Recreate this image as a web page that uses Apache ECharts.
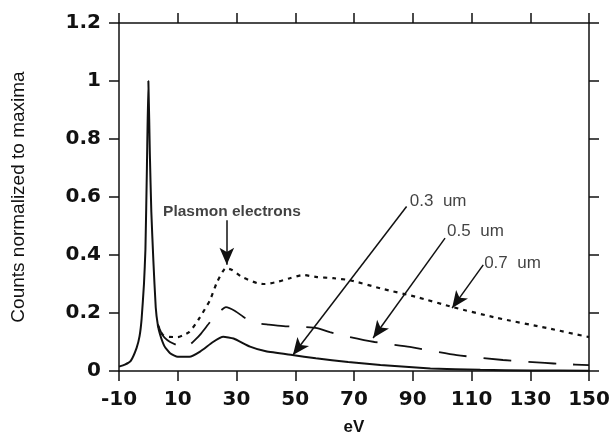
<!DOCTYPE html>
<html>
<head>
<meta charset="utf-8">
<script src="https://cdn.jsdelivr.net/npm/echarts@6/dist/echarts.min.js"></script>
<style>
  html, body { margin: 0; padding: 0; background: #fff; }
  #chart { width: 612px; height: 437px; }
</style>
</head>
<body>
<div id="chart"></div>
<script>
// x axis ticks (eV)
const xTicks = [-10, 10, 30, 50, 70, 90, 110, 130, 150];

// 0.3 um - solid
const solidX = [-10, -8, -6, -4, -3, -2.3, -1.5, -1, -0.5, 0, 0.5, 1, 1.7, 2.5, 3.2, 4, 5.5, 7.4, 10, 14, 17.6, 22, 25.5, 29, 34.6, 40, 49, 57, 68, 79, 96, 113, 130, 150];
const solidY = [0.015, 0.022, 0.035, 0.08, 0.12, 0.18, 0.3, 0.42, 0.7, 1.0, 0.75, 0.55, 0.38, 0.22, 0.16, 0.125, 0.085, 0.061, 0.049, 0.049, 0.067, 0.1, 0.118, 0.112, 0.084, 0.068, 0.055, 0.044, 0.031, 0.021, 0.009, 0.004, 0.002, 0.001];

// 0.5 um - long dashes
const dashX = [3.2, 4.5, 5.5, 7.4, 10, 11.8, 14, 15.9, 18, 21, 23.7, 26.4, 29.5, 32.9, 37, 41, 46, 52, 57.4, 61.8, 68.6, 77, 89, 105, 120.7, 135, 141, 150];
const dashY = [0.16, 0.13, 0.115, 0.1, 0.088, 0.083, 0.09, 0.107, 0.13, 0.169, 0.2, 0.22, 0.207, 0.183, 0.165, 0.16, 0.155, 0.152, 0.148, 0.134, 0.117, 0.1, 0.083, 0.055, 0.038, 0.028, 0.024, 0.02];

// 0.7 um - dotted
const dotX = [3.2, 4, 5, 7, 10, 12, 14, 17, 21, 23.4, 26.4, 28.5, 31.9, 37, 39.7, 43.8, 48.2, 52.6, 57.4, 62.9, 68.6, 79, 91, 103.7, 118.7, 135.7, 150];
const dotY = [0.16, 0.14, 0.124, 0.118, 0.117, 0.124, 0.135, 0.176, 0.245, 0.307, 0.355, 0.348, 0.324, 0.303, 0.3, 0.307, 0.32, 0.331, 0.324, 0.32, 0.313, 0.285, 0.256, 0.22, 0.183, 0.148, 0.117];

// annotations: text anchor (left edge), arrow start, arrow tip
const noteText = ["Plasmon electrons", "0.3  um", "0.5  um", "0.7  um"];
const noteAt = [[5, 0.548], [89, 0.586], [101.7, 0.483], [114.3, 0.372]];
const arrowFrom = [[26.7, 0.52], [87.9, 0.567], [101, 0.458], [114, 0.366]];
const arrowTo = [[26.7, 0.366], [49.2, 0.055], [76.5, 0.114], [103.4, 0.217]];

const ink = "#111";
const zip = (xs, ys) => xs.map((x, i) => [x, ys[i]]);

const chart = echarts.init(document.getElementById("chart"), null, { renderer: "canvas" });

const baseX = {
  type: "value",
  min: -10,
  max: 150,
  axisLine: { show: true, onZero: false, lineStyle: { color: ink, width: 1.5 } },
  axisTick: { show: true, inside: false, length: 10, customValues: xTicks, lineStyle: { color: ink, width: 1.5 } },
  splitLine: { show: false },
};
const baseY = {
  type: "value",
  min: 0,
  max: 1.2,
  interval: 0.2,
  axisLine: { show: true, onZero: false, lineStyle: { color: ink, width: 1.5 } },
  axisTick: { show: true, inside: false, length: 10, lineStyle: { color: ink, width: 1.5 } },
  splitLine: { show: false },
};

const option = {
  animation: false,
  backgroundColor: "#fff",
  grid: { left: 119, right: 23, top: 23, bottom: 66, containLabel: false, outerBoundsMode: "none" },
  xAxis: [
    Object.assign({}, baseX, {
      position: "bottom",
      name: "eV",
      nameLocation: "middle",
      nameGap: 48,
      nameMoveOverlap: false,
      nameTextStyle: { fontFamily: "Liberation Sans", fontWeight: "bold", fontSize: 17, color: ink },
      axisLabel: {
        customValues: xTicks,
        margin: 19,
        fontFamily: "DejaVu Sans",
        fontWeight: "bold",
        fontSize: 20,
        color: ink,
      },
    }),
    Object.assign({}, baseX, { position: "top", axisLabel: { show: false } }),
  ],
  yAxis: [
    Object.assign({}, baseY, {
      position: "left",
      name: "Counts normalized to maxima",
      nameLocation: "middle",
      nameGap: 91,
      nameMoveOverlap: false,
      nameTextStyle: { fontFamily: "Liberation Sans", fontSize: 19, color: ink },
      axisLabel: {
        margin: 18,
        fontFamily: "DejaVu Sans",
        fontWeight: "bold",
        fontSize: 20,
        color: ink,
      },
    }),
    Object.assign({}, baseY, { position: "right", axisLabel: { show: false } }),
  ],
  series: [
    {
      name: "0.7 um",
      type: "line",
      data: zip(dotX, dotY),
      symbol: "none",
      smooth: 0.2,
      lineStyle: { color: ink, width: 2.2, type: [4, 5] },
    },
    {
      name: "0.5 um",
      type: "line",
      data: zip(dashX, dashY),
      symbol: "none",
      smooth: 0.2,
      lineStyle: { color: ink, width: 1.8, type: [28, 17] },
    },
    {
      name: "0.3 um",
      type: "line",
      data: zip(solidX, solidY),
      symbol: "none",
      smooth: 0.15,
      lineStyle: { color: ink, width: 2 },
      markLine: {
        silent: true,
        symbol: ["none", "arrow"],
        symbolSize: [11, 17],
        label: { show: false },
        lineStyle: { color: ink, width: 1.5, type: "solid" },
        data: arrowFrom.map((p, i) => [{ coord: p }, { coord: arrowTo[i] }]),
      },
    },
    {
      name: "notes",
      type: "scatter",
      symbolSize: 0,
      silent: true,
      data: noteText.map((t, i) => ({ value: noteAt[i], name: t })),
      label: {
        show: true,
        position: "right",
        distance: 0,
        formatter: (p) => p.name,
        fontFamily: "Liberation Sans",
        fontSize: 17,
        color: ink,
      },
      labelLayout: { hideOverlap: false },
    },
  ],
};

// "Plasmon electrons" is set in bold
option.series[3].data[0].label = { fontWeight: "bold", fontSize: 15.5 };

chart.setOption(option);
</script>
</body>
</html>
